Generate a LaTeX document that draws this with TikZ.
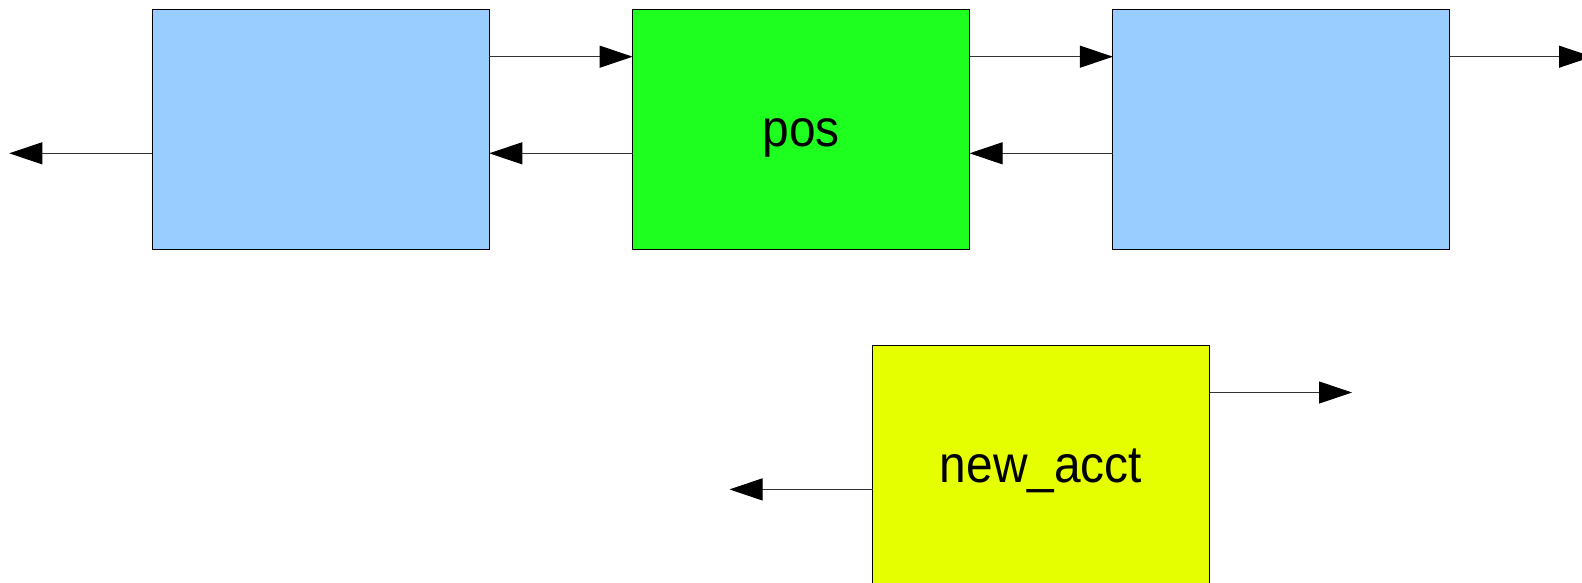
\documentclass[tikz,border=0pt]{standalone}
\usepackage{fontspec}
\setmainfont[FakeStretch=0.92]{Liberation Sans}
\usetikzlibrary{arrows.meta}
\definecolor{listblue}{HTML}{99CCFF}
\definecolor{posgreen}{HTML}{1FFF1F}
\definecolor{acctyellow}{HTML}{E6FF00}
\definecolor{linkgray}{HTML}{333333}
\begin{document}
\begin{tikzpicture}[x=1pt,y=-1pt,
  listbox/.style={draw=black, line width=0.9pt, minimum width=337pt, minimum height=240pt,
    inner sep=0pt, outer sep=0pt},
  boxtext/.style={anchor=base, inner sep=0pt, font=\fontsize{52}{60}\selectfont},
  link/.style={draw=linkgray, line width=1pt,
    -{Triangle[length=33pt,width=22pt,fill=black,color=black]}}]
  \useasboundingbox (0,0) rectangle (1582,582);
  % doubly linked list row
  \node[listbox, fill=listblue]   (L) at (320.8,129) {};
  \node[listbox, fill=posgreen]   (G) at (801.1,129) {};
  \node[listbox, fill=listblue]   (R) at (1281.4,129) {};
  % node being inserted
  \node[listbox, fill=acctyellow] (N) at (1041,465) {};
  % box captions, set on a common baseline below the centre
  \node[boxtext] (Gtext) at ([yshift=-17pt]G.center) {pos};
  \node[boxtext] (Ntext) at ([yshift=-17.5pt]N.center) {new\_acct};
  % free ends of the links
  \coordinate (Lprev) at (9.3,153.3);
  \coordinate (Rnext) at (1592,56.7);
  \coordinate (Nprev) at (729.5,489.4);
  \coordinate (Nnext) at (1352,392.5);
  % forward links
  \draw[link] (L.east |- 0,56.7) -- (G.west |- 0,56.7);
  \draw[link] (G.east |- 0,56.7) -- (R.west |- 0,56.7);
  \draw[link] (R.east |- Rnext) -- (Rnext);
  % backward links
  \draw[link] (G.west |- 0,153.3) -- (L.east |- 0,153.3);
  \draw[link] (R.west |- 0,153.3) -- (G.east |- 0,153.3);
  \draw[link] (L.west |- Lprev) -- (Lprev);
  % links of the new node
  \draw[link] (N.east |- Nnext) -- (Nnext);
  \draw[link] (N.west |- Nprev) -- (Nprev);
\end{tikzpicture}
\end{document}
